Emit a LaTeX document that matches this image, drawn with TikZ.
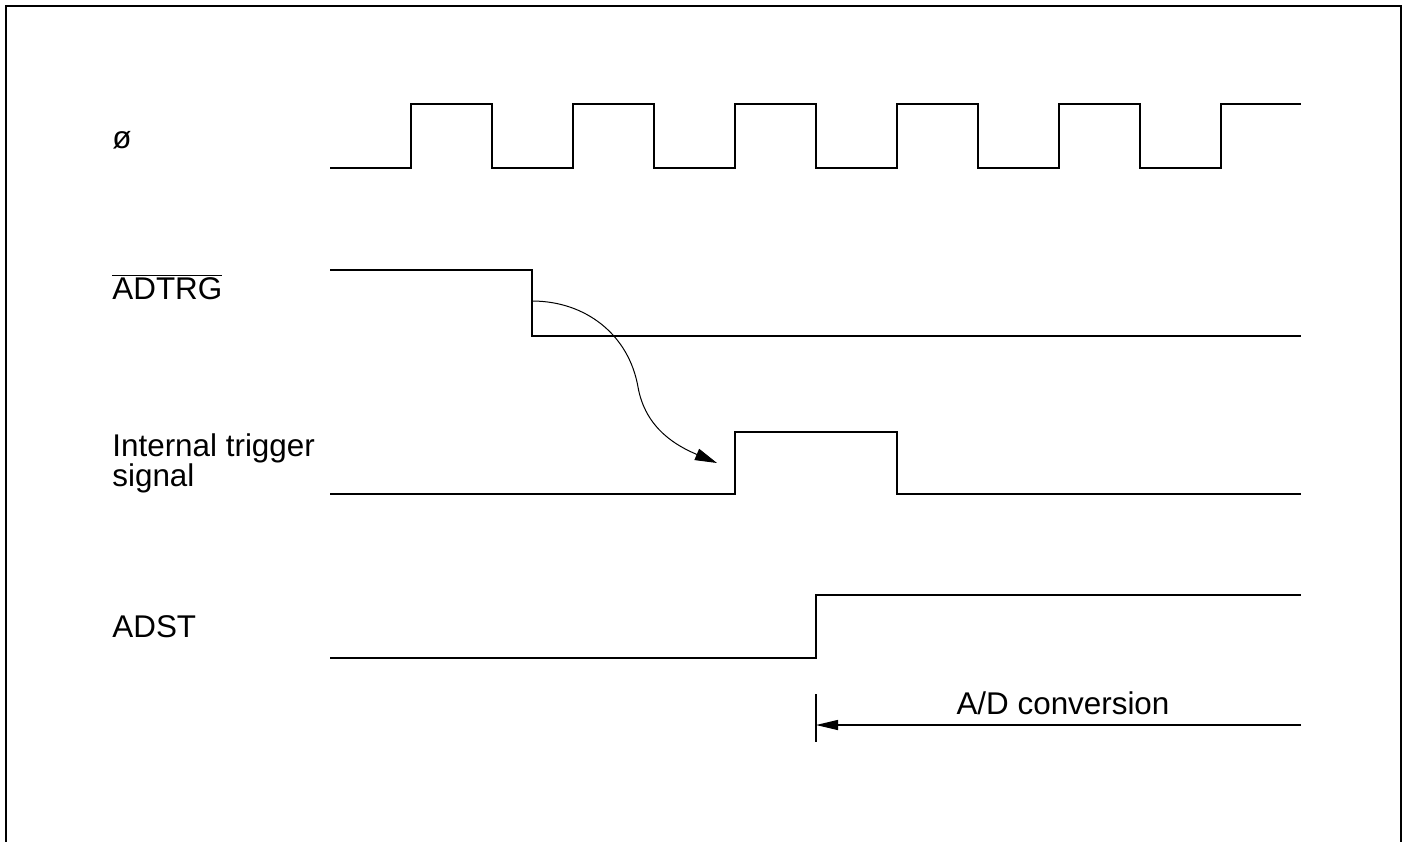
\documentclass[tikz,border=0pt]{standalone}
\usepackage{fontspec}
\setmainfont{Liberation Sans}
\usepackage{tikz}
\usetikzlibrary{arrows.meta}

\begin{document}
\begin{tikzpicture}[>=Latex,x=0.5pt,y=-0.5pt,font=\fontsize{15.7}{15}\selectfont,
  sig/.style={line width=1pt,line join=miter},
  lbl/.style={anchor=west,align=left,inner sep=0pt}]
\useasboundingbox (0,0) rectangle (1407,841);
\draw[line width=1.3pt] (6,845)--(6,6)--(1401,6)--(1401,845);
\node[lbl] (phi) at (112,140) {ø};
\node[lbl] (adtrg) at (112,287) {$\overline{\hbox{ADTRG}}$};
\node[lbl] (itrig) at (112,463) {Internal trigger\\signal};
\node[lbl] (adst) at (112,627) {ADST};
\draw[sig] (330,168) foreach \k in {0,...,4} { -| ({411+162*\k},104) -| ({492+162*\k},168) }
   -| (1221,104) -- (1301,104);
\draw[sig] (330,270) -| (532,336) -- (1301,336);
\draw[sig] (330,494) -| (735,432) -| (897,494) -- (1301,494);
\draw[sig] (330,658) -| (816,595) -- (1301,595);
\coordinate (fall) at (532,301);
\coordinate (hit) at (717,463);
\draw[line width=0.5pt,-{Triangle[length=11pt,width=6pt]}] (fall) to[out=0,in=100] (638,387) to[out=-80,in=157] (hit);
\draw[line width=0.6pt] (816,694)--(816,742);
\coordinate (adend) at (1301,725);
\coordinate (adbeg) at (816,725);
\draw[line width=0.6pt,-{Triangle[length=11pt,width=5pt]}] (adend)--(adbeg);
\node (conv) at (1063,703) {A/D conversion};
\end{tikzpicture}
\end{document}
